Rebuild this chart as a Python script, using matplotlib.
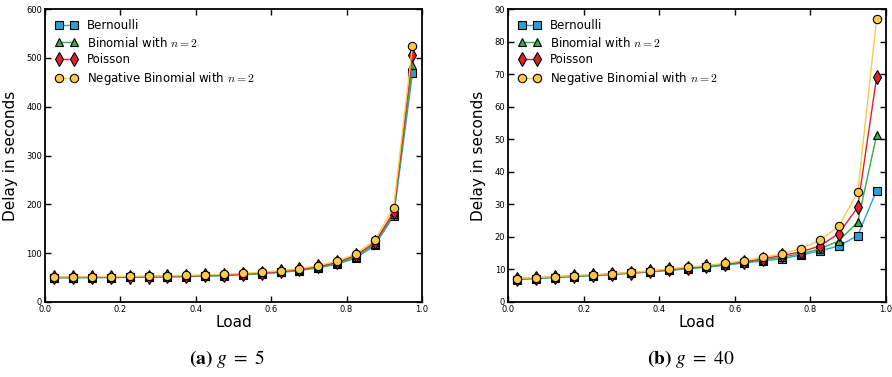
import numpy as np
import matplotlib
matplotlib.use("Agg")
import matplotlib.pyplot as plt

# load points (centres of 0.05 bins)
load = [0.025, 0.075, 0.125, 0.175, 0.225, 0.275, 0.325, 0.375, 0.425, 0.475,
        0.525, 0.575, 0.625, 0.675, 0.725, 0.775, 0.825, 0.875, 0.925, 0.975]

labels = ["Bernoulli", r"Binomial with $n=2$", "Poisson",
          r"Negative Binomial with $n=2$"]

# (a) g = 5
g5_bern = [49.5, 49.6, 49.8, 50.0, 50.3, 50.7, 51.2, 51.9, 52.8, 54.0,
           55.6, 57.7, 60.5, 64.4, 69.8, 77.5, 90.0, 116.0, 176.0, 469.0]
g5_binom = [50.0, 50.1, 50.3, 50.5, 50.9, 51.3, 51.8, 52.5, 53.4, 54.7,
            56.3, 58.5, 61.4, 65.5, 71.2, 79.5, 93.0, 119.0, 180.0, 485.0]
g5_poiss = [50.6, 50.7, 50.9, 51.2, 51.6, 52.0, 52.6, 53.3, 54.3, 55.6,
            57.3, 59.6, 62.6, 66.8, 72.8, 81.3, 95.5, 122.0, 184.0, 506.0]
g5_negbin = [51.3, 51.5, 51.8, 52.1, 52.5, 53.0, 53.6, 54.4, 55.5, 56.8,
             58.6, 61.0, 64.0, 68.4, 74.6, 83.5, 99.0, 126.6, 193.0, 525.0]

# (b) g = 40
g40_bern = [6.9, 7.2, 7.5, 7.8, 8.1, 8.4, 8.8, 9.2, 9.7, 10.2,
            10.7, 11.3, 12.0, 12.6, 13.3, 14.4, 15.7, 17.2, 20.4, 34.2]
g40_binom = [7.0, 7.3, 7.6, 7.9, 8.2, 8.5, 8.9, 9.3, 9.8, 10.3,
             10.9, 11.5, 12.2, 12.9, 13.8, 14.8, 16.3, 18.8, 24.5, 51.2]
g40_poiss = [7.1, 7.4, 7.7, 8.0, 8.3, 8.6, 9.0, 9.4, 10.0, 10.5,
             11.0, 11.7, 12.4, 13.3, 14.3, 15.4, 17.2, 21.0, 29.1, 69.0]
g40_negbin = [7.2, 7.5, 7.8, 8.1, 8.4, 8.7, 9.1, 9.5, 10.2, 10.7,
              11.2, 11.9, 12.7, 13.7, 14.8, 16.4, 18.9, 23.3, 33.7, 86.8]

colors = ["#2b9fd6", "#3aab48", "#e3202a", "#fdc94a"]
markers = ["s", "^", "d", "o"]
msizes = [5.4, 6.2, 7.2, 6.0]

plt.rcParams["mathtext.fontset"] = "cm"

fig = plt.figure(figsize=(8.92, 3.77), dpi=100)
ax1 = fig.add_axes([0.0504, 0.199, 0.4226, 0.777])
ax2 = fig.add_axes([0.5695, 0.199, 0.4238, 0.777])


def draw(ax, series, ymax, ystep):
    for y, c, m, ms, lab in zip(series, colors, markers, msizes, labels):
        ax.plot(load, y, color=c, marker=m, markersize=ms, lw=1.0,
                markeredgecolor="black", markeredgewidth=0.8, label=lab)
    ax.set_xlim(0, 1)
    ax.set_ylim(0, ymax)
    ax.set_xticks(np.arange(0, 1.01, 0.2))
    ax.set_yticks(np.arange(0, ymax + 1, ystep))
    ax.tick_params(direction="in", top=True, right=True, labelsize=6,
                   length=4, width=1, pad=2)
    for s in ax.spines.values():
        s.set_linewidth(1.3)
    ax.set_xlabel("Load", fontsize=11, labelpad=1)
    ax.set_ylabel("Delay in seconds", fontsize=11, labelpad=6)
    ax.legend(loc="upper left", frameon=False, fontsize=8.5, numpoints=2,
              handlelength=1.9, handletextpad=0.8, labelspacing=0.3,
              borderaxespad=0.45)


draw(ax1, [g5_bern, g5_binom, g5_poiss, g5_negbin], 600, 100)
draw(ax2, [g40_bern, g40_binom, g40_poiss, g40_negbin], 90, 10)

fig.text(0.254, 0.035, r"$\mathbf{(a)}\ g\ =\ 5$", math_fontfamily="stix",
         fontsize=14, ha="center")
fig.text(0.775, 0.035, r"$\mathbf{(b)}\ g\ =\ 40$", math_fontfamily="stix",
         fontsize=14, ha="center")

fig.savefig("out.png", dpi=100)
